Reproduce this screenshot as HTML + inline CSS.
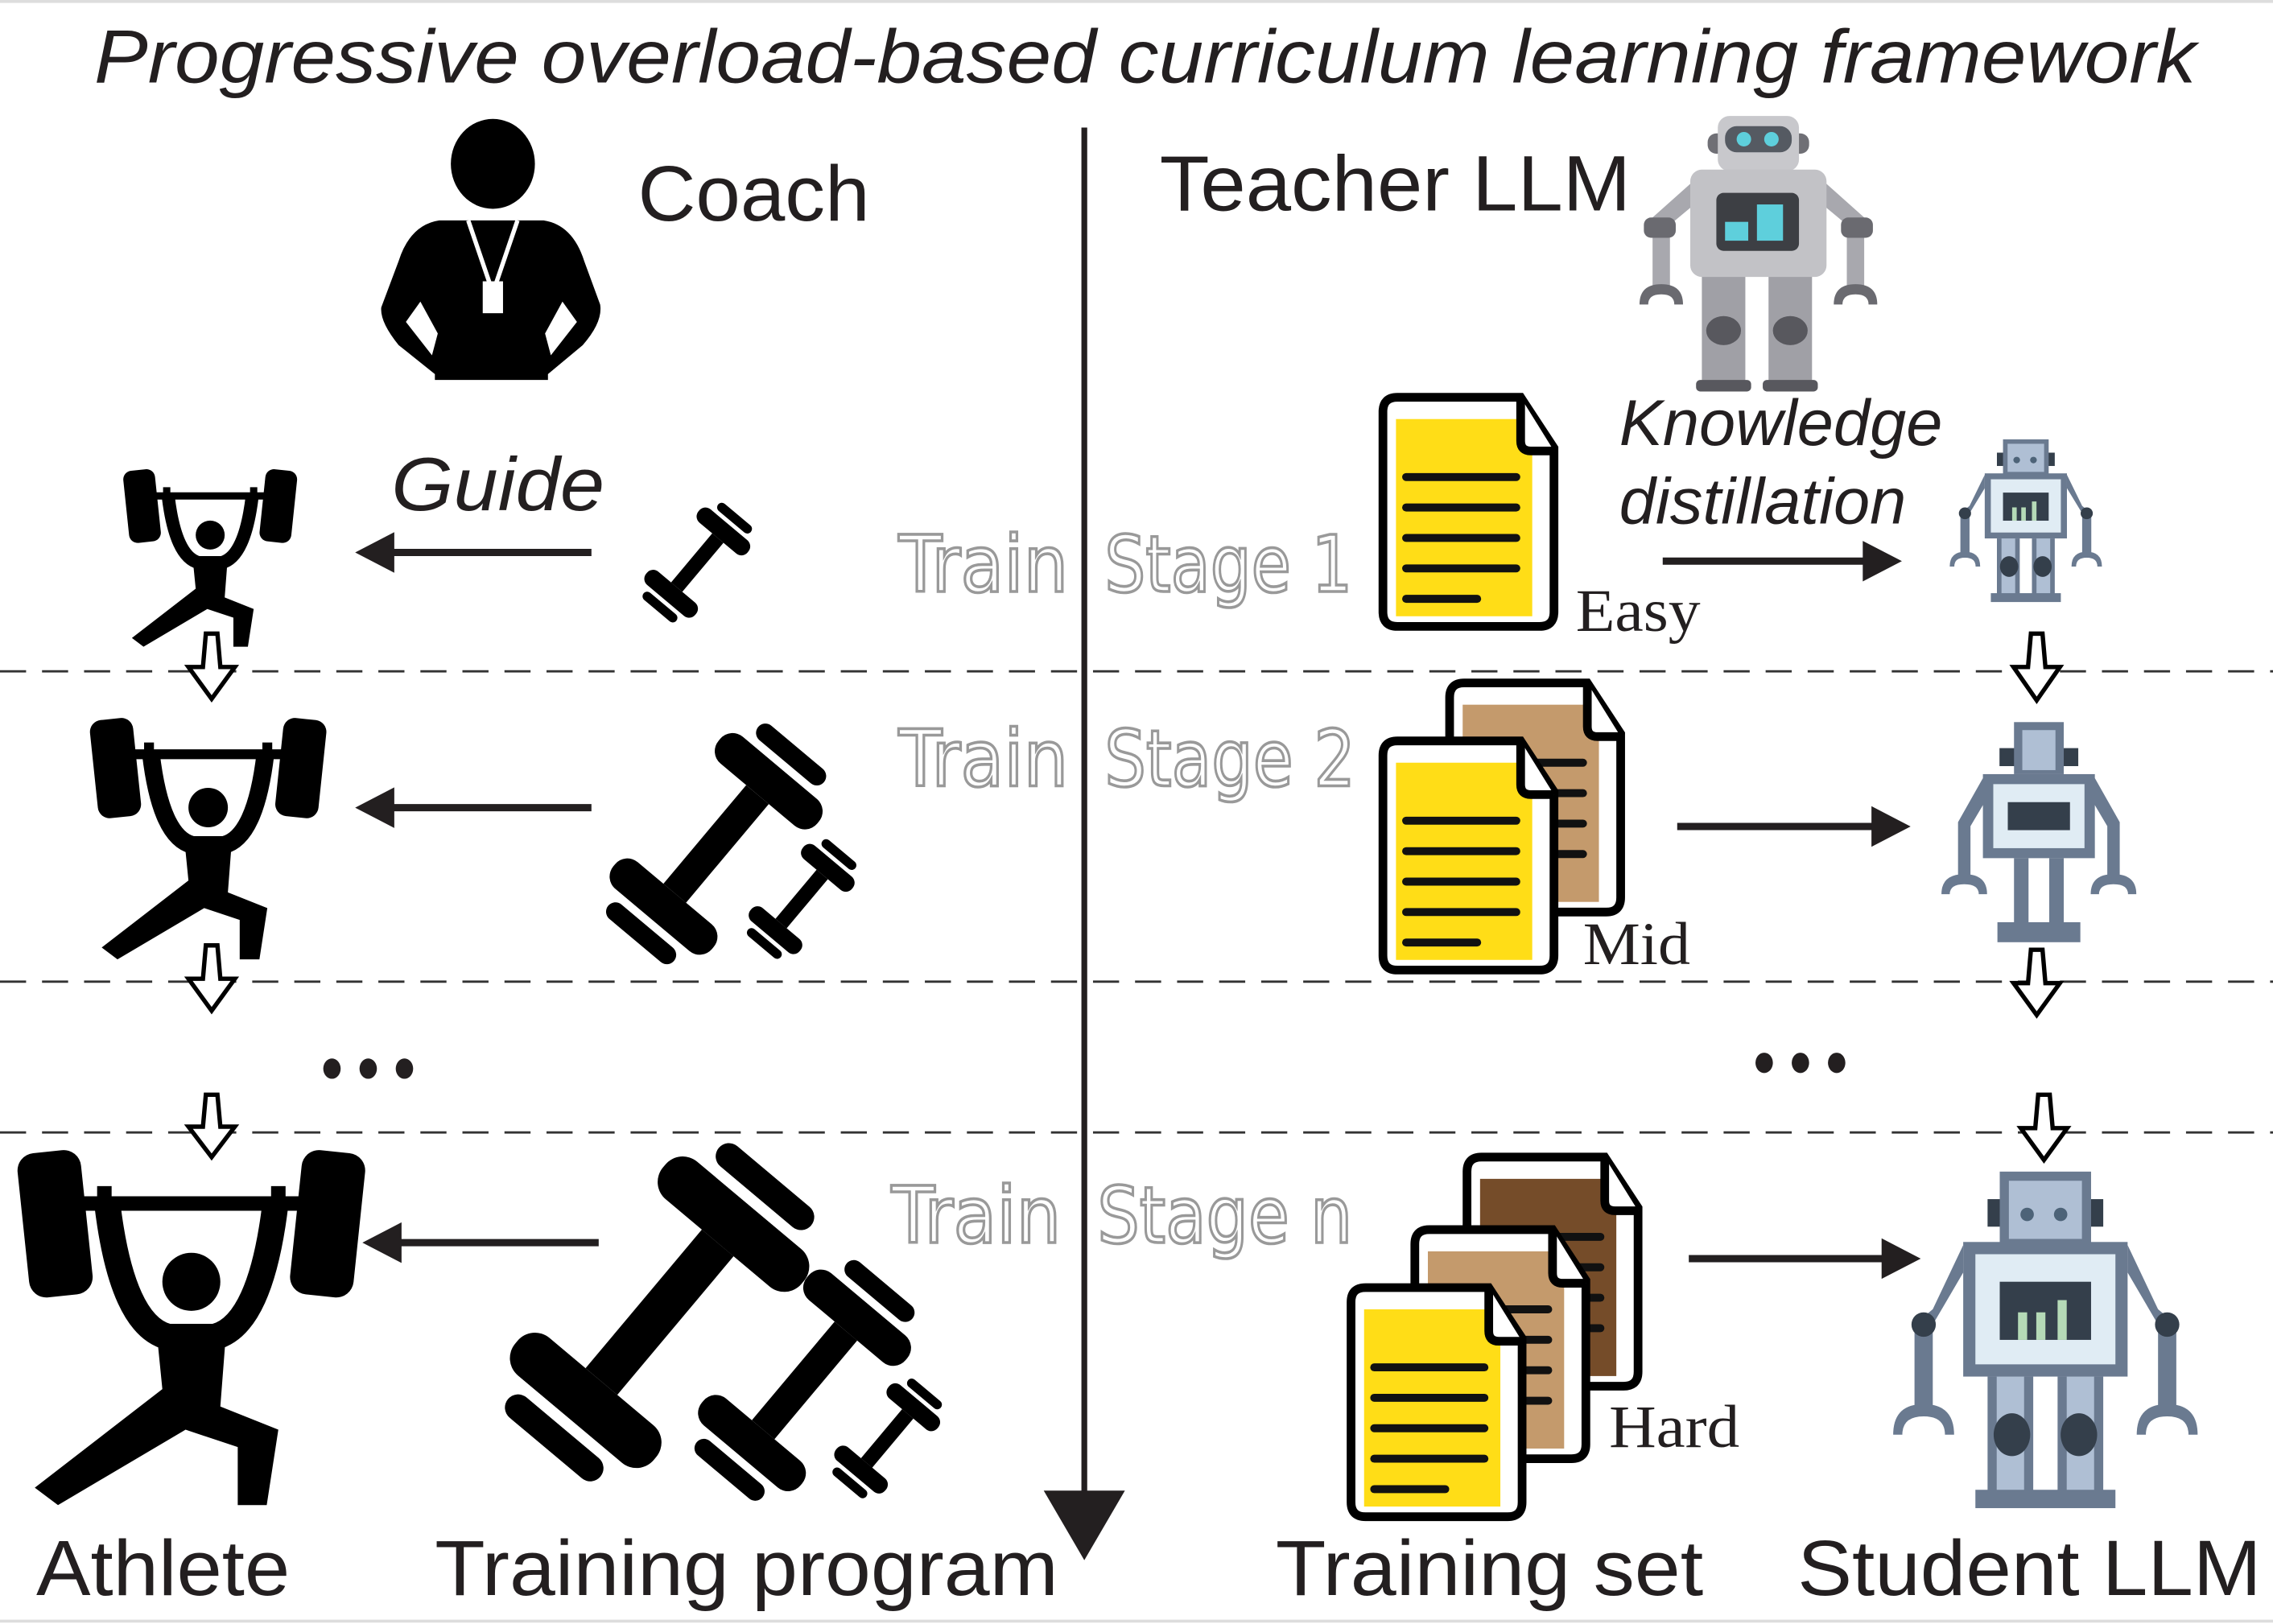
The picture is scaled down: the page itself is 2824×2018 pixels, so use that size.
<!DOCTYPE html>
<html><head><meta charset="utf-8"><style>html,body{margin:0;padding:0;background:#fff}svg{display:block}</style></head>
<body>
<svg width="2824" height="2018" viewBox="0 0 1568 1120" preserveAspectRatio="none" xmlns="http://www.w3.org/2000/svg">
<defs>
<g id="doc">
  <path d="M10,0 H95 L118,35 V148 Q118,158 108,158 H10 Q0,158 0,148 V10 Q0,0 10,0 Z" fill="#fff" stroke="#000" stroke-width="6"/>
  <rect x="9" y="15" width="94" height="136" fill="currentColor"/>
  <path d="M95,0 V30 Q95,37 102,37 H118" fill="#fff" stroke="#000" stroke-width="6"/>
  <g stroke="#111" stroke-width="5.5" stroke-linecap="round">
    <line x1="16" y1="55" x2="92" y2="55"/><line x1="16" y1="76" x2="92" y2="76"/>
    <line x1="16" y1="97" x2="92" y2="97"/><line x1="16" y1="118" x2="92" y2="118"/>
    <line x1="16" y1="139" x2="65" y2="139"/></g>
</g>
<g id="db">
  <rect x="-24" y="-5.5" width="48" height="11" fill="#000"/>
  <rect x="-37" y="-24" width="13" height="48" rx="6" fill="#000"/>
  <rect x="24" y="-24" width="13" height="48" rx="6" fill="#000"/>
  <rect x="-47" y="-16" width="7" height="32" rx="3.5" fill="#000"/>
  <rect x="40" y="-16" width="7" height="32" rx="3.5" fill="#000"/>
</g>
<g id="lifter">
  <rect x="2" y="2" width="22" height="50" rx="6" fill="#000" transform="rotate(-6 13 27)"/>
  <rect x="96" y="2" width="22" height="50" rx="6" fill="#000" transform="rotate(6 107 27)"/>
  <line x1="20" y1="20" x2="100" y2="20" stroke="#000" stroke-width="5"/>
  <line x1="30" y1="14" x2="30" y2="26" stroke="#000" stroke-width="5"/>
  <line x1="90" y1="14" x2="90" y2="26" stroke="#000" stroke-width="5"/>
  <path d="M31,20 Q36,62 52,66 H68 Q84,62 89,20" fill="none" stroke="#000" stroke-width="9"/>
  <circle cx="60" cy="47" r="10" fill="#000"/>
  <path d="M48,64 H72 L70,90 L90,98 L86,124 L76,124 L76,104 L58,98 L14,124 L6,118 L50,84 Z" fill="#000"/>
</g>
<g id="robot">
  <rect x="31" y="9" width="38" height="9" fill="#343f4b"/>
  <rect x="35" y="0" width="30" height="24" fill="#6a7a90"/>
  <rect x="38" y="3" width="24" height="19" fill="#afbfd4"/>
  <circle cx="44" cy="14" r="2.2" fill="#4d6378"/><circle cx="55" cy="14" r="2.2" fill="#4d6378"/>
  <path d="M23,24 L13,45 L7,50 V78 H13 V50 L23,33 Z" fill="#6a7a90"/>
  <path d="M77,24 L87,45 L93,50 V78 H87 V50 L77,33 Z" fill="#6a7a90"/>
  <circle cx="10" cy="50" r="4" fill="#343f4b"/><circle cx="90" cy="50" r="4" fill="#343f4b"/>
  <path d="M0,86 Q0,76 10,76 Q20,76 20,86 H17 Q17,80 10,80 Q3,80 3,86 Z" fill="#6a7a90"/>
  <path d="M80,86 Q80,76 90,76 Q100,76 100,86 H97 Q97,80 90,80 Q83,80 83,86 Z" fill="#6a7a90"/>
  <rect x="23" y="23" width="54" height="44" fill="#6a7a90"/>
  <rect x="27" y="27" width="46" height="36" fill="#e0ecf4"/>
  <rect x="35" y="36" width="30" height="19" fill="#343f4b"/>
  <rect x="41" y="46" width="3" height="9" fill="#b5dab7"/><rect x="47" y="46" width="3" height="9" fill="#b5dab7"/><rect x="54" y="42" width="3" height="13" fill="#b5dab7"/>
  <rect x="31" y="67" width="15" height="39" fill="#6a7a90"/><rect x="54" y="67" width="15" height="39" fill="#6a7a90"/>
  <rect x="34" y="67" width="9" height="38" fill="#afbfd4"/><rect x="57" y="67" width="9" height="38" fill="#afbfd4"/>
  <ellipse cx="39" cy="86" rx="6" ry="7" fill="#343f4b"/><ellipse cx="61" cy="86" rx="6" ry="7" fill="#343f4b"/>
  <rect x="27" y="104" width="46" height="6" fill="#6a7a90"/>
</g>
<g id="robot2">
  <rect x="31" y="13" width="38" height="9" fill="#343f4b"/>
  <rect x="38" y="0" width="24" height="26" fill="#6a7a90"/>
  <rect x="42" y="4" width="16" height="20" fill="#afbfd4"/>
  <path d="M23,28 L11,50 V80 H17 V52 L25,38 Z" fill="#6a7a90"/>
  <path d="M77,28 L89,50 V80 H83 V52 L75,38 Z" fill="#6a7a90"/>
  <path d="M3,86 Q3,76 14,76 Q25,76 25,86 H21 Q21,81 14,81 Q7,81 7,86 Z" fill="#6a7a90"/>
  <path d="M75,86 Q75,76 86,76 Q97,76 97,86 H93 Q93,81 86,81 Q79,81 79,86 Z" fill="#6a7a90"/>
  <rect x="23" y="26" width="54" height="42" fill="#6a7a90"/>
  <rect x="28" y="31" width="44" height="32" fill="#e0ecf4"/>
  <rect x="35" y="40" width="30" height="14" fill="#343f4b"/>
  <rect x="38" y="68" width="7" height="36" fill="#6a7a90"/><rect x="55" y="68" width="7" height="36" fill="#6a7a90"/>
  <rect x="30" y="100" width="40" height="10" fill="#6a7a90"/>
</g>
</defs>

<line x1="0" y1="1" x2="1568" y2="1" stroke="#ddd" stroke-width="2"/>
<line x1="0" y1="1118" x2="1568" y2="1118" stroke="#ddd" stroke-width="2"/>

<g font-family="Liberation Sans, sans-serif" fill="#231f20">
<text x="65" y="57" font-size="52" font-style="italic" textLength="1450" lengthAdjust="spacingAndGlyphs">Progressive overload-based curriculum learning framework</text>
<text x="440" y="152" font-size="54" textLength="160" lengthAdjust="spacingAndGlyphs">Coach</text>
<text x="800" y="145" font-size="54" textLength="325" lengthAdjust="spacingAndGlyphs">Teacher LLM</text>
<text x="270" y="352" font-size="52" font-style="italic" textLength="147" lengthAdjust="spacingAndGlyphs">Guide</text>
<text x="1117" y="307" font-size="45" font-style="italic" textLength="223" lengthAdjust="spacingAndGlyphs">Knowledge</text>
<text x="1117" y="361" font-size="45" font-style="italic" textLength="198" lengthAdjust="spacingAndGlyphs">distillation</text>
<text x="25" y="1100" font-size="54" textLength="175" lengthAdjust="spacingAndGlyphs">Athlete</text>
<text x="300" y="1100" font-size="54" textLength="430" lengthAdjust="spacingAndGlyphs">Training program</text>
<text x="880" y="1100" font-size="54" textLength="295" lengthAdjust="spacingAndGlyphs">Training set</text>
<text x="1240" y="1100" font-size="54" textLength="320" lengthAdjust="spacingAndGlyphs">Student LLM</text>
</g>
<g font-family="Liberation Serif, serif" fill="#231f20" font-size="42">
<text x="1087" y="435" textLength="86" lengthAdjust="spacingAndGlyphs">Easy</text>
<text x="1092" y="665" textLength="74" lengthAdjust="spacingAndGlyphs">Mid</text>
<text x="1110" y="998" textLength="90" lengthAdjust="spacingAndGlyphs">Hard</text>
</g>
<g font-family="DejaVu Sans, sans-serif" font-size="54" fill="#fff" stroke="#999" stroke-width="2">
<text x="620" y="408" textLength="117" lengthAdjust="spacingAndGlyphs">Train</text>
<text x="762" y="408" textLength="171" lengthAdjust="spacingAndGlyphs">Stage 1</text>
<text x="620" y="542" textLength="117" lengthAdjust="spacingAndGlyphs">Train</text>
<text x="762" y="542" textLength="173" lengthAdjust="spacingAndGlyphs">Stage 2</text>
<text x="615" y="857" textLength="117" lengthAdjust="spacingAndGlyphs">Train</text>
<text x="757" y="857" textLength="176" lengthAdjust="spacingAndGlyphs">Stage n</text>
</g>

<g stroke="#333" stroke-width="1.6" stroke-dasharray="18 11">
<line x1="0" y1="463" x2="1568" y2="463"/><line x1="0" y1="677" x2="1568" y2="677"/><line x1="0" y1="781" x2="1568" y2="781"/>
</g>

<line x1="748" y1="88" x2="748" y2="1040" stroke="#231f20" stroke-width="4"/>
<polygon points="720,1028 776,1028 748,1076" fill="#231f20"/>

<ellipse cx="340" cy="113" rx="29" ry="31" fill="#000"/>
<path d="M303,152 Q283,155 275,180 L263,212 Q262,222 275,238 L300,258 V262 H378 V258 L402,238 Q416,222 414,210 L403,180 Q395,155 375,152 Z" fill="#000"/>
<path d="M290,208 L302,230 L298,245 L280,222 Z M388,208 L376,230 L380,245 L398,222 Z" fill="#fff"/>
<path d="M323,152 L338,196 M357,152 L342,196" stroke="#fff" stroke-width="3" fill="none"/>
<rect x="333" y="194" width="14" height="22" fill="#fff"/>

<use href="#lifter" transform="translate(85,322) scale(1.0)"/>
<use href="#lifter" transform="translate(62,493) scale(1.36)"/>
<use href="#lifter" transform="translate(12,790) scale(2.0)"/>

<g fill="#231f20" stroke="#231f20">
<line x1="408" y1="381" x2="265" y2="381" stroke-width="5"/><polygon points="245,381 272,367 272,395" stroke="none"/>
<line x1="408" y1="557" x2="265" y2="557" stroke-width="5"/><polygon points="245,557 272,543 272,571" stroke="none"/>
<line x1="413" y1="857" x2="270" y2="857" stroke-width="5"/><polygon points="250,857 277,843 277,871" stroke="none"/>
<line x1="1147" y1="387" x2="1290" y2="387" stroke-width="5"/><polygon points="1312,387 1285,373 1285,401" stroke="none"/>
<line x1="1157" y1="570" x2="1296" y2="570" stroke-width="5"/><polygon points="1318,570 1291,556 1291,584" stroke="none"/>
<line x1="1165" y1="868" x2="1303" y2="868" stroke-width="5"/><polygon points="1325,868 1298,854 1298,882" stroke="none"/>
</g>

<use href="#db" transform="translate(481,388) rotate(-50) scale(0.92)"/>
<use href="#db" transform="translate(494,582) rotate(-50) scale(1.85)"/>
<use href="#db" transform="translate(553,620) rotate(-50) scale(0.92)"/>
<use href="#db" transform="translate(455,905) rotate(-50) scale(2.6)"/>
<use href="#db" transform="translate(555,952) rotate(-50) scale(1.85)"/>
<use href="#db" transform="translate(612,992) rotate(-50) scale(0.92)"/>

<g fill="#fff" stroke="#000" stroke-width="3" stroke-linejoin="miter">
<polygon points="142,437 150,437 152,460 162,460 146,482 130,460 140,460"/>
<polygon points="142,652 150,652 152,675 162,675 146,697 130,675 140,675"/>
<polygon points="142,755 150,755 152,777 162,777 146,798 130,777 140,777"/>
<polygon points="1401,437 1409,437 1411,460 1421,460 1405,483 1389,460 1399,460"/>
<polygon points="1401,655 1409,655 1411,678 1421,678 1405,700 1389,678 1399,678"/>
<polygon points="1406,755 1414,755 1416,778 1426,778 1410,800 1394,778 1404,778"/>
</g>

<g fill="#231f20">
<ellipse cx="229" cy="737" rx="6" ry="7"/><ellipse cx="254" cy="737" rx="6" ry="7"/><ellipse cx="279" cy="737" rx="6" ry="7"/>
<ellipse cx="1217" cy="733" rx="6" ry="7"/><ellipse cx="1242" cy="733" rx="6" ry="7"/><ellipse cx="1267" cy="733" rx="6" ry="7"/>
</g>

<use href="#doc" color="#ffdd17" transform="translate(954,274)"/>
<use href="#doc" color="#c49a6c" transform="translate(1000,471)"/>
<use href="#doc" color="#ffdd17" transform="translate(954,511)"/>
<use href="#doc" color="#754c29" transform="translate(1012,798)"/>
<use href="#doc" color="#c49a6c" transform="translate(976,848)"/>
<use href="#doc" color="#ffdd17" transform="translate(932,888)"/>

<g>
<rect x="1178" y="92" width="70" height="14" rx="6" fill="#6f6f75"/>
<rect x="1185" y="80" width="56" height="38" rx="8" fill="#c8c8cc"/>
<rect x="1190" y="87" width="46" height="18" rx="8" fill="#555a62"/>
<circle cx="1203" cy="96" r="5" fill="#5ecfdc"/><circle cx="1222" cy="96" r="5" fill="#5ecfdc"/>
<path d="M1168,125 L1140,150 V200 H1152 V155 L1170,140 Z" fill="#a8a8ae"/>
<path d="M1258,125 L1286,150 V200 H1274 V155 L1256,140 Z" fill="#a8a8ae"/>
<rect x="1134" y="150" width="22" height="14" rx="5" fill="#6a6a70"/><rect x="1270" y="150" width="22" height="14" rx="5" fill="#6a6a70"/>
<path d="M1131,210 Q1131,196 1146,196 Q1161,196 1161,210 H1155 Q1155,203 1146,203 Q1137,203 1137,210 Z" fill="#6a6a70"/>
<path d="M1265,210 Q1265,196 1280,196 Q1295,196 1295,210 H1289 Q1289,203 1280,203 Q1271,203 1271,210 Z" fill="#6a6a70"/>
<rect x="1174" y="188" width="30" height="78" fill="#a0a0a6"/><rect x="1220" y="188" width="30" height="78" fill="#a0a0a6"/>
<ellipse cx="1189" cy="228" rx="12" ry="10" fill="#58585e"/><ellipse cx="1235" cy="228" rx="12" ry="10" fill="#58585e"/>
<rect x="1170" y="262" width="38" height="8" rx="3" fill="#58585e"/><rect x="1216" y="262" width="38" height="8" rx="3" fill="#58585e"/>
<rect x="1166" y="117" width="94" height="74" rx="8" fill="#c2c2c6"/>
<rect x="1184" y="133" width="57" height="40" rx="5" fill="#3d3f44"/>
<rect x="1190" y="153" width="16" height="13" fill="#5ecfdc"/><rect x="1212" y="141" width="18" height="25" fill="#5ecfdc"/>
</g>

<use href="#robot" transform="translate(1345,303) scale(1.05,1.02)"/>
<use href="#robot2" transform="translate(1335,498) scale(1.43,1.38)"/>
<use href="#robot" transform="translate(1306,808) scale(2.1,2.11)"/>
</svg>
</body></html>
